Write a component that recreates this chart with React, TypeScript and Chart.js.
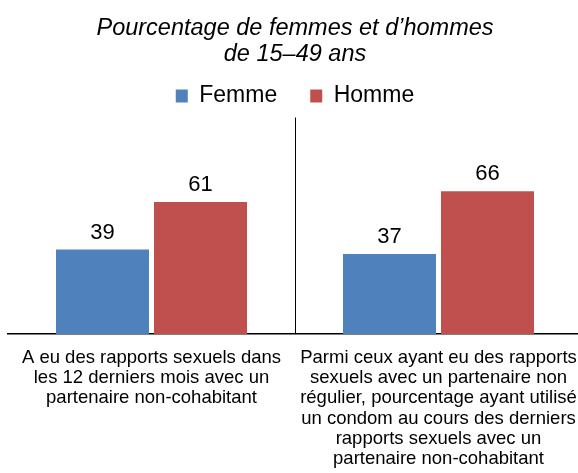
import React, { useEffect, useRef } from 'react';
import { Chart, registerables } from 'chart.js';

Chart.register(...registerables);

const titleLines = ['Pourcentage de femmes et d’hommes', 'de 15–49 ans'];
const seriesNames = ['Femme', 'Homme'];
const categoryLabels = [
  ['A eu des rapports sexuels dans', 'les 12 derniers mois avec un', 'partenaire non-cohabitant'],
  [
    'Parmi ceux ayant eu des rapports',
    'sexuels avec un partenaire non',
    'régulier, pourcentage ayant utilisé',
    'un condom au cours des derniers',
    'rapports sexuels avec un',
    'partenaire non-cohabitant',
  ],
];
const femmeValues = [39, 37];
const hommeValues = [61, 66];
const seriesColors = ['#4F81BD', '#C0504D'];
const yMin = 0;
const yMax = 100;

const FONT = "'Liberation Sans', Arial, Helvetica, sans-serif";

const valueLabels = {
  id: 'valueLabels',
  afterDatasetsDraw(chart: any) {
    const ctx = chart.ctx;
    ctx.save();
    ctx.font = `22px ${FONT}`;
    ctx.fillStyle = '#000';
    ctx.textAlign = 'center';
    ctx.textBaseline = 'alphabetic';
    chart.data.datasets.forEach((ds: any, i: number) => {
      const meta = chart.getDatasetMeta(i);
      meta.data.forEach((el: any, j: number) => {
        ctx.fillText(String(ds.data[j]), el.x, el.y - 11);
      });
    });
    ctx.restore();
  },
};

export default function App() {
  const ref = useRef<HTMLCanvasElement>(null);

  useEffect(() => {
    const chart = new Chart(ref.current as HTMLCanvasElement, {
      type: 'bar',
      data: {
        labels: categoryLabels as any,
        datasets: [
          {
            label: seriesNames[0],
            data: femmeValues,
            backgroundColor: seriesColors[0],
            borderWidth: 0,
            barPercentage: 0.949,
            categoryPercentage: 0.683,
          },
          {
            label: seriesNames[1],
            data: hommeValues,
            backgroundColor: seriesColors[1],
            borderWidth: 0,
            barPercentage: 0.949,
            categoryPercentage: 0.683,
          },
        ],
      },
      options: {
        animation: false,
        responsive: false,
        events: [],
        layout: { padding: { left: 8, right: 0, top: 0, bottom: 1.5 } },
        plugins: {
          title: {
            display: true,
            text: titleLines,
            color: '#000',
            font: { family: FONT, size: 23.5, style: 'italic', weight: 'normal', lineHeight: 1.09 },
            padding: { top: 15.8, bottom: -15.5 },
          },
          legend: {
            display: true,
            position: 'top',
            labels: {
              color: '#000',
              font: { family: FONT, size: 23 },
              boxWidth: 12,
              boxHeight: 13,
              padding: 33,
            },
          },
          tooltip: { enabled: false },
        },
        scales: {
          x: {
            grid: {
              display: true,
              offset: true,
              drawTicks: true,
              tickLength: 11.4,
              tickColor: 'rgba(0,0,0,0)',
              color: (c: any) => (c.index === 1 ? '#000' : 'rgba(0,0,0,0)'),
              lineWidth: 1,
            },
            border: { display: true, color: '#000', width: 1.5 },
            ticks: {
              color: '#000',
              font: { family: FONT, size: 18.5, lineHeight: 1.1 },
              padding: 2,
              maxRotation: 0,
              minRotation: 0,
              autoSkip: false,
            },
          },
          y: {
            display: false,
            min: yMin,
            max: yMax,
          },
        },
      },
      plugins: [valueLabels],
    });
    return () => chart.destroy();
  }, []);

  return (
    <div
      style={{
        position: 'fixed',
        left: 0,
        top: 0,
        width: 578,
        height: 473,
        overflow: 'hidden',
        background: '#fff',
      }}
    >
      <canvas ref={ref} width={582} height={473} style={{ display: 'block', width: 582, height: 473 }} />
    </div>
  );
}
